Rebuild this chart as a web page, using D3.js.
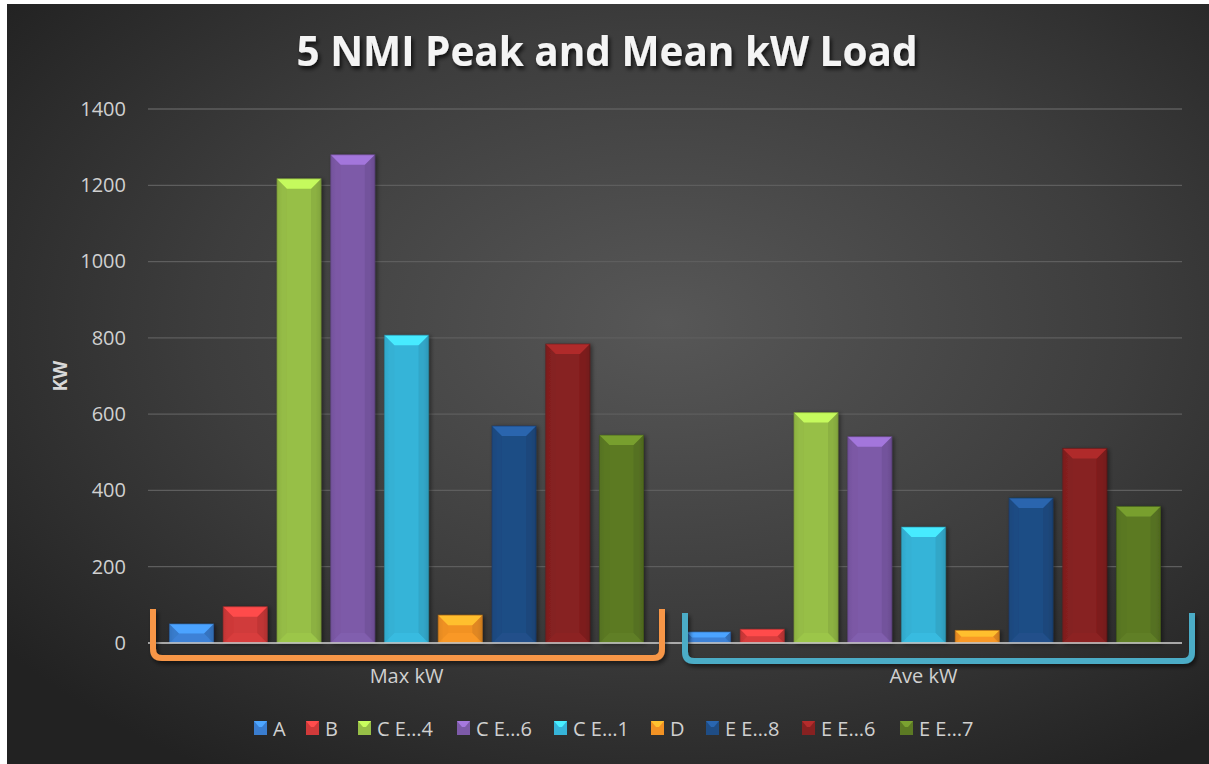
<!DOCTYPE html>
<html>
<head>
<meta charset="utf-8">
<script src="https://cdn.jsdelivr.net/npm/d3@7"></script>
<style>
  html, body { margin: 0; padding: 0; background: #ffffff; }
  svg { display: block; }
</style>
</head>
<body>
<svg id="chart" width="1209" height="764"></svg>
<script>
// ---- data ----
const groups = ["Max kW", "Ave kW"];
const seriesNames = ["A", "B", "C E\u20264", "C E\u20266", "C E\u20261", "D", "E E\u20268", "E E\u20266", "E E\u20267"];
const maxKw = [50, 95, 1217, 1280, 807, 73, 569, 784, 545];
const aveKw = [29, 36, 604, 541, 304, 33, 380, 510, 358];
const yTicks = [0, 200, 400, 600, 800, 1000, 1200, 1400];
const seriesColors = ["#3a7dcf", "#d03a3a", "#97bf47", "#7d5aa8", "#36b4d8", "#f29224", "#1f4d85", "#872121", "#5c7a24"];
const bracketColors = ["#f79646", "#4bacc6"];

const svg = d3.select("#chart");
const W = 1209, H = 764;
const plot = { left: 148, right: 1182, top: 109, bottom: 643 };
const FONT = "'Open Sans', 'Liberation Sans', sans-serif";

// ---- defs: background, bar shading, shadows ----
const defs = svg.append("defs");
const bg = defs.append("radialGradient").attr("id", "bg")
  .attr("cx", "55%").attr("cy", "42%").attr("r", "70%");
bg.append("stop").attr("offset", "0%").attr("stop-color", "#575757");
bg.append("stop").attr("offset", "55%").attr("stop-color", "#3d3d3d");
bg.append("stop").attr("offset", "100%").attr("stop-color", "#222222");

const titleShadow = defs.append("filter").attr("id", "tshadow")
  .attr("x", "-10%").attr("y", "-30%").attr("width", "120%").attr("height", "160%");
titleShadow.append("feDropShadow").attr("dx", 2).attr("dy", 3).attr("stdDeviation", 2)
  .attr("flood-color", "#000").attr("flood-opacity", 0.75);

const barShadow = defs.append("filter").attr("id", "bshadow")
  .attr("x", "-20%").attr("y", "-10%").attr("width", "140%").attr("height", "120%");
barShadow.append("feDropShadow").attr("dx", 2).attr("dy", 1).attr("stdDeviation", 2)
  .attr("flood-color", "#000").attr("flood-opacity", 0.45);

const bracketShadow = defs.append("filter").attr("id", "brshadow")
  .attr("x", "-5%").attr("y", "-30%").attr("width", "110%").attr("height", "160%");
bracketShadow.append("feDropShadow").attr("dx", 2).attr("dy", 3).attr("stdDeviation", 2)
  .attr("flood-color", "#000").attr("flood-opacity", 0.55);

seriesColors.forEach((c, i) => {
  const g = defs.append("linearGradient").attr("id", "bar" + i)
    .attr("x1", "0%").attr("x2", "100%").attr("y1", "0%").attr("y2", "0%");
  const base = d3.color(c);
  g.append("stop").attr("offset", "0%").attr("stop-color", base.darker(0.3));
  g.append("stop").attr("offset", "12%").attr("stop-color", base);
  g.append("stop").attr("offset", "88%").attr("stop-color", base);
  g.append("stop").attr("offset", "100%").attr("stop-color", base.darker(0.4));
});

svg.append("rect").attr("x", 7).attr("y", 4).attr("width", W - 7).attr("height", H - 4)
  .attr("fill", "url(#bg)");

// ---- scales ----
const x0 = d3.scaleBand().domain(groups).range([plot.left, plot.right])
  .paddingInner(0.083).paddingOuter(0.0415);
const x1 = d3.scaleBand().domain(seriesNames).range([0, x0.bandwidth()])
  .paddingInner(0.18).paddingOuter(0);
const y = d3.scaleLinear().domain([0, 1400]).range([plot.bottom, plot.top]);

// ---- gridlines ----
svg.append("g").selectAll("line").data(yTicks.filter(t => t > 0)).join("line")
  .attr("x1", plot.left).attr("x2", plot.right)
  .attr("y1", d => y(d)).attr("y2", d => y(d))
  .attr("stroke", "#5e5e5e").attr("stroke-width", 1.3);

// ---- y axis ----
const yAxis = d3.axisLeft(y).tickValues(yTicks).tickFormat(d3.format("d"))
  .tickSize(0).tickPadding(22);
const yg = svg.append("g").attr("transform", `translate(${plot.left},0)`).call(yAxis);
yg.select(".domain").remove();
yg.selectAll("text").attr("fill", "#d0d0d0")
  .style("font-family", FONT)
  .style("font-size", "20px");

svg.append("text")
  .attr("transform", `translate(62,${(plot.top + plot.bottom) / 2}) rotate(-90)`)
  .attr("text-anchor", "middle").attr("dominant-baseline", "middle")
  .attr("fill", "#d8d8d8").style("font-family", FONT)
  .style("font-size", "19px").style("font-weight", "bold").text("KW");

// ---- bars ----
const rows = [maxKw, aveKw];
const barData = [];
groups.forEach((g, gi) => {
  seriesNames.forEach((s, si) => {
    barData.push({ group: g, series: s, si, value: rows[gi][si] });
  });
});

const bevel = 10;
const bx = d => x0(d.group) + x1(d.series);
const bev = d => Math.min(bevel, (y(0) - y(d.value)) / 2);
const pts = arr => arr.map(p => p.join(",")).join(" ");

const bars = svg.append("g").selectAll("g").data(barData).join("g")
  .attr("filter", "url(#bshadow)");
bars.append("rect")
  .attr("x", bx)
  .attr("y", d => y(d.value))
  .attr("width", x1.bandwidth())
  .attr("height", d => y(0) - y(d.value))
  .attr("fill", d => `url(#bar${d.si})`);
// side bevel faces
bars.append("polygon")
  .attr("points", d => {
    const xl = bx(d), yt = y(d.value), yb = y(0), b = bev(d);
    return pts([[xl, yt], [xl + b, yt + b], [xl + b, yb - b], [xl, yb]]);
  })
  .attr("fill", d => d3.color(seriesColors[d.si]).darker(0.1)).attr("opacity", 0.45);
bars.append("polygon")
  .attr("points", d => {
    const xr = bx(d) + x1.bandwidth(), yt = y(d.value), yb = y(0), b = bev(d);
    return pts([[xr, yt], [xr - b, yt + b], [xr - b, yb - b], [xr, yb]]);
  })
  .attr("fill", d => d3.color(seriesColors[d.si]).darker(0.5)).attr("opacity", 0.45);
// bottom bevel face
bars.append("polygon")
  .attr("points", d => {
    const xl = bx(d), xr = xl + x1.bandwidth(), yb = y(0), b = bev(d);
    return pts([[xl, yb], [xr, yb], [xr - b, yb - b], [xl + b, yb - b]]);
  })
  .attr("fill", d => d3.color(seriesColors[d.si]).brighter(0.2)).attr("opacity", 0.5);
// top bevel face
bars.append("polygon")
  .attr("points", d => {
    const xl = bx(d), xr = xl + x1.bandwidth(), yt = y(d.value), b = bev(d);
    return pts([[xl, yt], [xr, yt], [xr - b, yt + b], [xl + b, yt + b]]);
  })
  .attr("fill", d => d3.color(seriesColors[d.si]).brighter(0.75));
bars.append("rect")
  .attr("x", bx)
  .attr("y", d => y(d.value))
  .attr("width", x1.bandwidth())
  .attr("height", d => y(0) - y(d.value))
  .attr("fill", "none")
  .attr("stroke", d => d3.color(seriesColors[d.si]).darker(0.9))
  .attr("stroke-opacity", 0.6).attr("stroke-width", 1);

// ---- category axis line ----
svg.append("line")
  .attr("x1", plot.left).attr("x2", plot.right)
  .attr("y1", y(0)).attr("y2", y(0))
  .attr("stroke", "#c8c8c8").attr("stroke-opacity", 0.8).attr("stroke-width", 2.2);

// ---- group brackets ----
const bracketTop = [609, 613];
const bracketBottom = [658, 661];
const bracketEnds = [[153, 662], [685, 1192]];
groups.forEach((g, gi) => {
  const [xa, xb] = bracketEnds[gi];
  const yt = bracketTop[gi], yb = bracketBottom[gi], r = 9;
  const path = d3.path();
  path.moveTo(xa, yt);
  path.lineTo(xa, yb - r);
  path.quadraticCurveTo(xa, yb, xa + r, yb);
  path.lineTo(xb - r, yb);
  path.quadraticCurveTo(xb, yb, xb, yb - r);
  path.lineTo(xb, yt);
  svg.append("path").attr("d", path.toString())
    .attr("fill", "none").attr("stroke", bracketColors[gi])
    .attr("stroke-width", 6).attr("stroke-linecap", "butt")
    .attr("filter", "url(#brshadow)");
});

// ---- category labels ----
svg.append("g").selectAll("text").data(groups).join("text")
  .attr("x", d => x0(d) + x0.bandwidth() / 2)
  .attr("y", 683)
  .attr("text-anchor", "middle")
  .attr("fill", "#d0d0d0")
  .style("font-family", FONT)
  .style("font-size", "20px")
  .text(d => d);

// ---- title ----
svg.append("text")
  .attr("x", 607).attr("y", 66)
  .attr("text-anchor", "middle")
  .attr("fill", "#f4f4f4")
  .attr("filter", "url(#tshadow)")
  .attr("textLength", 621).attr("lengthAdjust", "spacingAndGlyphs")
  .style("font-family", FONT)
  .style("font-size", "41px").style("font-weight", "bold")
  .text("5 NMI Peak and Mean kW Load");

// ---- legend ----
const legendX = [254, 306, 358, 457, 554, 651, 706, 802, 900];
const legend = svg.append("g").selectAll("g").data(seriesNames).join("g")
  .attr("transform", (d, i) => `translate(${legendX[i]},721)`);
legend.append("rect").attr("width", 13).attr("height", 14)
  .attr("fill", (d, i) => seriesColors[i]);
legend.append("polygon").attr("points", "0,0 13,0 8,6 5,6")
  .attr("fill", (d, i) => d3.color(seriesColors[i]).brighter(0.8));
legend.append("text").attr("x", 19).attr("y", 7).attr("dominant-baseline", "central")
  .attr("fill", "#d0d0d0")
  .style("font-family", FONT)
  .style("font-size", "20px")
  .text(d => d);
</script>
</body>
</html>
